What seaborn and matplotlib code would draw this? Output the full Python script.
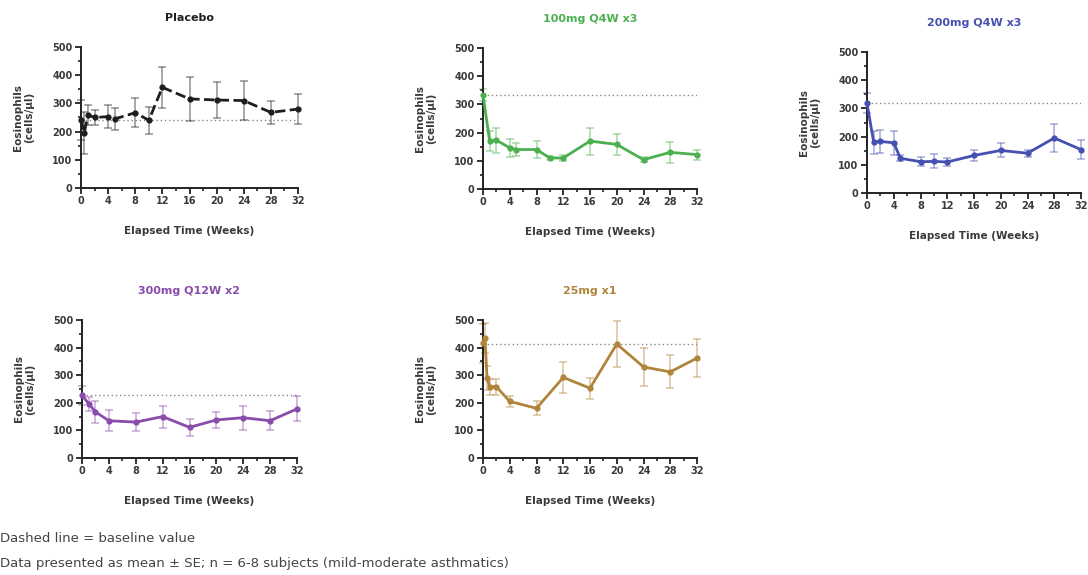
import numpy as np
import pandas as pd
import matplotlib
matplotlib.use("Agg")
import matplotlib.pyplot as plt
import seaborn as sns
from matplotlib.ticker import MultipleLocator

# ---------------- data ----------------
titles = ["Placebo", "100mg Q4W x3", "200mg Q4W x3", "300mg Q12W x2", "25mg x1"]

placebo_weeks = [0, 0.5, 1, 2, 4, 5, 8, 10, 12, 16, 20, 24, 28, 32]
placebo_mean = [241, 195, 260, 250, 253, 245, 267, 240, 357, 316, 312, 310, 268, 280]
placebo_se = [70, 75, 35, 25, 42, 38, 52, 48, 73, 78, 65, 68, 42, 52]
placebo_base = 240

mg100_weeks = [0, 1, 2, 4, 5, 8, 10, 12, 16, 20, 24, 28, 32]
mg100_mean = [333, 170, 173, 146, 140, 140, 110, 110, 170, 158, 104, 130, 122]
mg100_se = [20, 35, 45, 32, 22, 30, 8, 10, 48, 38, 8, 38, 18]
mg100_base = 333

mg200_weeks = [0, 1, 2, 4, 5, 8, 10, 12, 16, 20, 24, 28, 32]
mg200_mean = [318, 180, 183, 178, 123, 111, 112, 110, 133, 151, 141, 195, 154]
mg200_se = [35, 40, 40, 42, 10, 15, 25, 15, 20, 25, 12, 48, 35]
mg200_base = 318

mg300_weeks = [0, 1, 2, 4, 8, 12, 16, 20, 24, 28, 32]
mg300_mean = [227, 197, 167, 135, 130, 150, 111, 138, 146, 135, 178]
mg300_se = [35, 25, 40, 38, 32, 40, 32, 30, 43, 35, 45]
mg300_base = 230

mg25_weeks = [0, 0.3, 0.6, 1, 2, 4, 8, 12, 16, 20, 24, 28, 32]
mg25_mean = [415, 435, 290, 258, 258, 205, 180, 292, 253, 413, 330, 312, 362]
mg25_se = [70, 55, 45, 30, 30, 20, 25, 55, 38, 85, 70, 60, 70]
mg25_base = 413

x_ticks = [0, 4, 8, 12, 16, 20, 24, 28, 32]
y_ticks = [0, 100, 200, 300, 400, 500]

colors = ["#1e1e1e", "#4cb050", "#4650b0", "#8a4cab", "#b0843a"]

groups = [
    (placebo_weeks, placebo_mean, placebo_se, placebo_base),
    (mg100_weeks, mg100_mean, mg100_se, mg100_base),
    (mg200_weeks, mg200_mean, mg200_se, mg200_base),
    (mg300_weeks, mg300_mean, mg300_se, mg300_base),
    (mg25_weeks, mg25_mean, mg25_se, mg25_base),
]

# ---------------- layout ----------------
sns.set_style("ticks")
plt.rcParams['font.family'] = ['DejaVu Sans']

fig = plt.figure(figsize=(10.88, 5.75), dpi=100)

W, H = 1088, 575
boxes = [  # left, top, right, bottom in pixels
    (81, 47, 298, 188),
    (483, 48, 697, 189),
    (867, 52, 1081, 193),
    (82, 320, 297, 458),
    (483, 320, 697, 458),
]

text_col = "#3a3a3a"

for i, (title, (wk, mean, se, base), col, box) in enumerate(zip(titles, groups, colors, boxes)):
    l, t, r, b = box
    ax = fig.add_axes([l / W, 1 - b / H, (r - l) / W, (b - t) / H])
    df = pd.DataFrame({"week": wk, "value": mean, "se": se})

    # baseline
    ax.plot([0, 32], [base, base], linestyle=(0, (1, 2)), color="#888888", lw=1.0, zorder=1)

    # error bars
    ax.errorbar(df["week"], df["value"], yerr=df["se"], fmt="none",
                ecolor=col, alpha=0.45, elinewidth=1.2, capsize=3, capthick=1.2,
                zorder=2, clip_on=False)

    sns.lineplot(data=df, x="week", y="value", ax=ax, color=col, marker="o",
                 markersize=4.5, markeredgewidth=0, lw=2.0,
                 linestyle="--" if i == 0 else "-",
                 estimator=None, sort=False, zorder=3, clip_on=False)

    ax.set_xlim(0, 32)
    ax.set_ylim(0, 500)
    ax.set_xticks(x_ticks)
    ax.set_yticks(y_ticks)
    ax.xaxis.set_minor_locator(MultipleLocator(2))
    ax.yaxis.set_minor_locator(MultipleLocator(50))
    ax.tick_params(axis="both", which="major", length=4, width=1.3,
                   labelsize=7, colors="#222222", labelcolor=text_col, pad=2)
    ax.tick_params(axis="both", which="minor", length=2.5, width=1.2, colors="#222222")
    for lab in ax.get_xticklabels() + ax.get_yticklabels():
        lab.set_fontweight("bold")
    for s in ["top", "right"]:
        ax.spines[s].set_visible(False)
    for s in ["left", "bottom"]:
        ax.spines[s].set_linewidth(1.4)
        ax.spines[s].set_color("#222222")

    ax.set_xlabel("Elapsed Time (Weeks)", fontsize=7.5, fontweight="bold",
                  color=text_col, labelpad=14)
    ax.set_ylabel("Eosinophils\n(cells/µl)", fontsize=7.5, fontweight="bold",
                  color=text_col, labelpad=13)
    ax.set_title(title, fontsize=8, fontweight="bold", color=col, pad=18.5)

fig.text(0.0, 1 - 538 / H, "Dashed line = baseline value", fontsize=9.5,
         color="#444444", va="center", ha="left")
fig.text(0.0, 1 - 563 / H,
         "Data presented as mean ± SE; n = 6-8 subjects (mild-moderate asthmatics)",
         fontsize=9.5, color="#444444", va="center", ha="left")

fig.savefig("out.png", dpi=100, facecolor="white")
